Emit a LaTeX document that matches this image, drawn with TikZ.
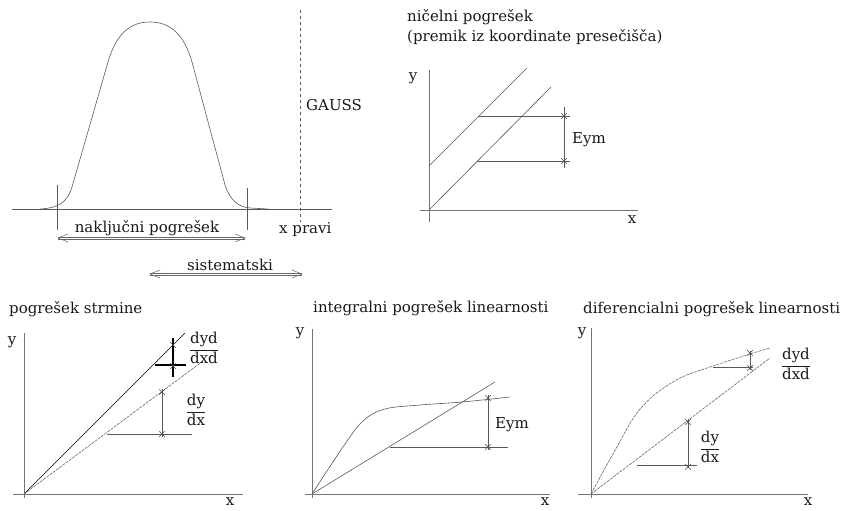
\documentclass[tikz,border=0pt]{standalone}
\usepackage{amsmath}
\usepackage{fontspec}
\setmainfont{DejaVu Serif}
\usetikzlibrary{arrows.meta, shapes.misc}

\begin{document}
\begin{tikzpicture}[x=1pt, y=-1pt,
  ln/.style={draw=black!65, line width=0.6pt},
  dln/.style={draw=black!60, line width=0.6pt, dash pattern=on 3pt off 1pt},
  axisline/.style={draw=black!55, line width=0.9pt},
  xmark/.style={cross out, draw=black!70, minimum size=5pt, inner sep=0pt, line width=0.5pt},
  lbl/.style={inner sep=0pt, text=black!90, font=\fontsize{15}{17}\selectfont},
  spanline/.style={draw=black!60, line width=0.55pt}]
  \useasboundingbox (0,0) rectangle (844,511);

  % Gauss curve with the true value
  \draw[ln] (12,209) -- (332,209);
  \draw[ln] (40,209) .. controls (58,208) and (67,203) .. (72,187)
            -- (108,62) .. controls (116,34) and (130,22) .. (150,22)
            .. controls (170,22) and (184,34) .. (192,62)
            -- (225,185) .. controls (230,200) and (238,207) .. (250,208) -- (268,209);
  \draw[ln] (57,185) -- (57,230);
  \draw[ln] (247,188) -- (247,230);
  \draw[ln, dashed] (300,10) -- (300,222);
  \node[lbl, anchor=west] (gauss) at (306,105) {GAUSS};
  \node[lbl, anchor=west] (xpravi) at (279,230) {x pravi};
  \node[lbl] (nakljucni) at (147,228) {naključni pogrešek};
  \node[lbl] (sistem) at (230,265) {sistematski};
  \coordinate (nA) at (58,238);
  \coordinate (nB) at (245,238);
  \coordinate (sA) at (150,274);
  \coordinate (sB) at (302,274);
  \foreach \a/\b in {nA/nB, sA/sB} {
    \draw[spanline] ([yshift=-1.2pt]\a) -- ([yshift=-1.2pt]\b)
                    ([yshift=1.2pt]\a) -- ([yshift=1.2pt]\b);
    \draw[spanline] ([shift={(10,-4)}]\a) -- (\a) -- ([shift={(10,4)}]\a);
    \draw[spanline] ([shift={(-10,-4)}]\b) -- (\b) -- ([shift={(-10,4)}]\b);
  }

  % Axes of the four small graphs
  \foreach \ox/\oy/\xl/\xr/\yt/\yb in {429/210/420/638/70/222, 24/494/13/243/333/498,
                                       312/494/305/550/329/498, 591/494/578/808/328/498} {
    \draw[axisline] (\xl,\oy) -- (\xr,\oy) (\ox,\yt) -- (\ox,\yb);
  }

  % nicelni pogresek
  \node[lbl, anchor=west] (t1a) at (407,17) {ničelni pogrešek};
  \node[lbl, anchor=west] (t1b) at (407,37) {(premik iz koordinate presečišča)};
  \node[lbl] (y1) at (413,78) {y};
  \node[lbl] (x1) at (632,220) {x};
  \draw[ln] (429,166) -- (527,68);
  \draw[ln] (429,210) -- (551,87);
  \draw[ln] (478,116) -- (570,116) (477,161) -- (570,161);
  \draw[ln] (564,107) -- (564,168);
  \node[xmark] at (564,116) {};
  \node[xmark] at (564,161) {};
  \node[lbl, anchor=west] (eym1) at (572,140) {Eym};

  % pogresek strmine
  \node[lbl, anchor=west] (t2) at (9,309) {pogrešek strmine};
  \node[lbl] (y2) at (12,342) {y};
  \node[lbl] (x2) at (230,502) {x};
  \draw[draw=black, line width=0.6pt] (24,494) -- (185,333);
  \draw[dln] (24,494) -- (203,361);
  \draw[ln] (107,434) -- (192,434) (162,389) -- (162,437);
  \draw[draw=black, line width=1.2pt] (155,365) -- (186,365) (173,338) -- (173,377);
  \foreach \p in {(173,345), (173,366), (162,392), (162,434)}
    \node[xmark] at \p {};
  \node[lbl] (f2a) at (204,348) {$\dfrac{\text{dyd}}{\text{dxd}}$};
  \node[lbl] (f2b) at (196,410) {$\dfrac{\text{dy}}{\text{dx}}$};

  % integralni pogresek linearnosti
  \node[lbl, anchor=west] (t3) at (313,308) {integralni pogrešek linearnosti};
  \node[lbl] (y3) at (300,333) {y};
  \node[lbl] (x3) at (545,502) {x};
  \draw[ln] (312,494) -- (495,382);
  \draw[ln] plot[smooth, tension=0.6] coordinates
    {(312,494) (343,447) (363,421) (385,409) (420,405) (462,402) (510,397)};
  \draw[ln] (390,447) -- (508,447) (488,395) -- (488,450);
  \node[xmark] at (488,398) {};
  \node[xmark] at (488,447) {};
  \node[lbl, anchor=west] (eym3) at (495,425) {Eym};

  % diferencialni pogresek linearnosti
  \node[lbl, anchor=west] (t4) at (583,309) {diferencialni pogrešek linearnosti};
  \node[lbl] (y4) at (582,333) {y};
  \node[lbl] (x4) at (808,502) {x};
  \draw[dln] (591,494) -- (770,358);
  \draw[dln] plot[smooth, tension=0.55] coordinates
    {(591,494) (604,470) (618,445) (634,417) (653,396) (680,378) (713,366) (750,354) (770,348)};
  \draw[ln] (713,367) -- (753,367) (750,351) -- (750,370);
  \draw[ln] (637,465) -- (697,465) (688,419) -- (688,468);
  \foreach \p in {(750,353), (750,368), (688,422), (688,467)}
    \node[xmark] at \p {};
  \node[lbl] (f4a) at (796,364) {$\dfrac{\text{dyd}}{\text{dxd}}$};
  \node[lbl] (f4b) at (710,447) {$\dfrac{\text{dy}}{\text{dx}}$};
\end{tikzpicture}
\end{document}
